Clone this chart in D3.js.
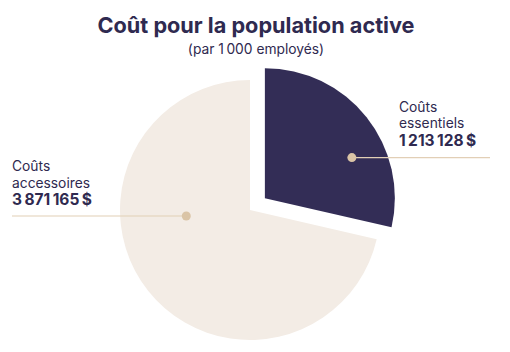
<!DOCTYPE html>
<html>
<head>
<meta charset="utf-8">
<script src="https://cdn.jsdelivr.net/npm/d3@7"></script>
<style>
  body { margin: 0; background: #fff; }
  text { font-family: Inter, "Noto Sans", sans-serif; }
</style>
</head>
<body>
<div id="graph"></div>
<script>
// labels + amounts shown in the chart
var categories = ['Coûts essentiels', 'Coûts accessoires']
var amounts = [1213128, 3871165]
// share of the circle each slice covers as drawn (%)
var shares = [28.6, 71.4]
var colors = ['#332d56', '#f3ece5']

var width = 510, height = 352

var svg = d3.select('#graph').append('svg')
  .attr('width', width).attr('height', height)

var fr = d3.formatLocale({decimal: ',', thousands: '\u2009', grouping: [3], currency: ['', '\u2009$']})
var fmt = fr.format('$,')

svg.append('text')
  .attr('x', 256).attr('y', 33)
  .attr('text-anchor', 'middle')
  .attr('fill', '#2f2a50')
  .style('font-size', '21.7px').style('font-weight', 700)
  .text('Coût pour la population active')

svg.append('text')
  .attr('x', 256).attr('y', 54)
  .attr('text-anchor', 'middle')
  .attr('fill', '#2f2a50')
  .style('font-size', '13.8px')
  .text('(par 1\u2009000 employés)')

var cx = 250, cy = 210, r = 130, explode = 19

var pie = d3.pie().sort(null).value(d => d)
var arcs = pie(shares)
var arc = d3.arc().innerRadius(0).outerRadius(r)

var g = svg.append('g').attr('transform', `translate(${cx},${cy})`)

arcs.forEach((d, i) => {
  var mid = (d.startAngle + d.endAngle)/2
  var off = i == 0 ? explode : 0
  d.ox = Math.sin(mid)*off
  d.oy = -Math.cos(mid)*off
})

g.selectAll('path').data(arcs).join('path')
  .attr('transform', d => `translate(${d.ox},${d.oy})`)
  .attr('d', arc)
  .attr('fill', (d, i) => colors[i])

// dot positions inside each slice, polar from slice centre
var dotPos = [{a: 65, r: 96}, {a: 264.6, r: 64}]
var labelSide = [
  {lineTo: 490, tx: 399, ty: -46},
  {lineTo: 12, tx: 12, ty: -45}
]

arcs.forEach((d, i) => {
  var a = dotPos[i].a*Math.PI/180
  var px = d.ox + Math.sin(a)*dotPos[i].r
  var py = d.oy - Math.cos(a)*dotPos[i].r
  g.append('line')
    .attr('x1', px).attr('y1', py)
    .attr('x2', labelSide[i].lineTo - cx).attr('y2', py)
    .attr('stroke', '#e2cfb6').attr('stroke-width', 1.2)
  g.append('circle')
    .attr('cx', px).attr('cy', py).attr('r', 4.5)
    .attr('fill', '#dac4a6')

  var words = categories[i].split(' ')
  var t = g.append('text')
    .attr('x', labelSide[i].tx - cx).attr('y', py + labelSide[i].ty)
    .attr('fill', '#2f2a50')
    .style('font-size', '13.8px')
  words.forEach((w, j) => {
    t.append('tspan').attr('x', labelSide[i].tx - cx).attr('dy', j ? 16.5 : 0).text(w)
  })
  t.append('tspan').attr('x', labelSide[i].tx - cx).attr('dy', 17.5)
    .style('font-weight', 700).style('font-size', '15.5px')
    .text(fmt(amounts[i]))
})
</script>
</body>
</html>
